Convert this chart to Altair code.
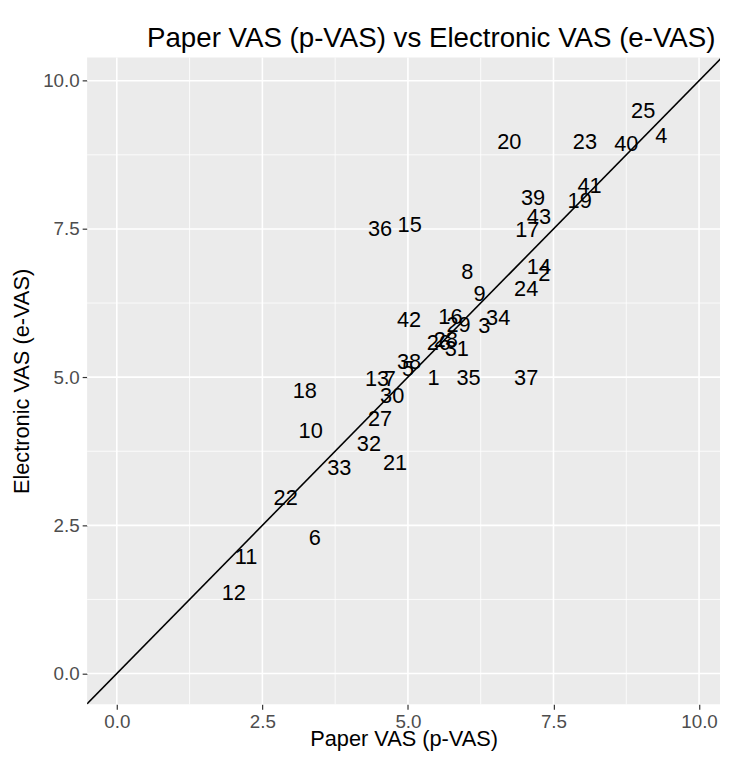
import altair as alt
import pandas as pd

# Patient ids and their paired VAS scores
ids = list(range(1, 44))
paper_vas = [5.44, 7.34, 6.31, 9.35, 5.00, 3.40, 4.69, 6.02, 6.23, 3.33,
             2.22, 2.01, 4.47, 7.25, 5.03, 5.73, 7.05, 3.23, 7.95, 6.74,
             4.78, 2.90, 8.04, 7.03, 9.04, 5.53, 4.52, 5.65, 5.87, 4.73,
             5.84, 4.33, 3.82, 6.55, 6.04, 4.52, 7.03, 5.02, 7.15, 8.75,
             8.12, 5.02, 7.25]
electronic_vas = [4.98, 6.74, 5.86, 9.07, 5.13, 2.28, 4.97, 6.77, 6.40, 4.09,
                  1.96, 1.35, 4.97, 6.86, 7.57, 6.01, 7.48, 4.76, 7.97, 8.97,
                  3.55, 2.96, 8.97, 6.49, 9.48, 5.57, 4.29, 5.62, 5.88, 4.68,
                  5.47, 3.87, 3.46, 6.00, 4.98, 7.50, 4.98, 5.25, 8.02, 8.93,
                  8.23, 5.96, 7.70]

major_ticks = [0.0, 2.5, 5.0, 7.5, 10.0]
minor_ticks = [1.25, 3.75, 6.25, 8.75]
x_domain = [-0.51, 10.36]
y_domain = [-0.52, 10.39]
diag = [-1.0, 11.0]

df = pd.DataFrame({"id": [str(i) for i in ids], "p": paper_vas, "e": electronic_vas})
minor_df = pd.DataFrame({"v": minor_ticks})
major_df = pd.DataFrame({"v": major_ticks})
diag_df = pd.DataFrame({"x": diag, "y": diag})

W, H = 640, 654
FONT = "Liberation Sans"

xs = alt.Scale(domain=x_domain, nice=False, zero=False)
ys = alt.Scale(domain=y_domain, nice=False, zero=False)

x_axis = alt.Axis(values=major_ticks, format=".1f", grid=False, domain=False,
                  tickColor="#333333", tickSize=5, tickWidth=1.2,
                  labelColor="#4D4D4D", labelFontSize=19, labelFont=FONT, labelPadding=3,
                  title="Paper VAS (p-VAS)", titleFont=FONT, titleFontSize=22,
                  titleFontWeight="normal", titleColor="black",
                  titleX=W / 2, titleY=35, titleBaseline="middle", titleAlign="center")
y_axis = alt.Axis(values=major_ticks, format=".1f", grid=False, domain=False,
                  tickColor="#333333", tickSize=5, tickWidth=1.2,
                  labelColor="#4D4D4D", labelFontSize=19, labelFont=FONT, labelPadding=3,
                  title="Electronic VAS (e-VAS)", titleFont=FONT, titleFontSize=22,
                  titleFontWeight="normal", titleColor="black",
                  titleX=-66, titleY=H / 2, titleBaseline="middle", titleAlign="center",
                  titleAngle=-90)

minor_v = alt.Chart(minor_df).mark_rule(color="white", strokeWidth=0.8).encode(
    x=alt.X("v:Q", scale=xs, axis=x_axis))
minor_h = alt.Chart(minor_df).mark_rule(color="white", strokeWidth=0.8).encode(
    y=alt.Y("v:Q", scale=ys, axis=y_axis))
major_v = alt.Chart(major_df).mark_rule(color="white", strokeWidth=1.6).encode(
    x=alt.X("v:Q", scale=xs, axis=x_axis))
major_h = alt.Chart(major_df).mark_rule(color="white", strokeWidth=1.6).encode(
    y=alt.Y("v:Q", scale=ys, axis=y_axis))

line = alt.Chart(diag_df).mark_line(color="black", strokeWidth=1.6, clip=True).encode(
    x=alt.X("x:Q", scale=xs, axis=x_axis),
    y=alt.Y("y:Q", scale=ys, axis=y_axis))

labels = alt.Chart(df).mark_text(font=FONT, fontSize=22, color="black",
                                 align="center", baseline="middle").encode(
    x=alt.X("p:Q", scale=xs, axis=x_axis),
    y=alt.Y("e:Q", scale=ys, axis=y_axis),
    text="id:N")

chart = alt.layer(minor_v, minor_h, major_v, major_h, line, labels).properties(
    width=W, height=H,
    autosize=alt.AutoSizeParams(type="none"),
    padding={"left": 80, "top": 46, "right": 1, "bottom": 44},
    title=alt.TitleParams("Paper VAS (p-VAS) vs Electronic VAS (e-VAS)",
                          font=FONT, fontSize=28, fontWeight="normal", color="black",
                          anchor="middle", offset=4, dx=28),
).configure_view(fill="#EBEBEB", stroke=None)

chart.save("out.html", embed_options={"renderer": "svg", "actions": False})
